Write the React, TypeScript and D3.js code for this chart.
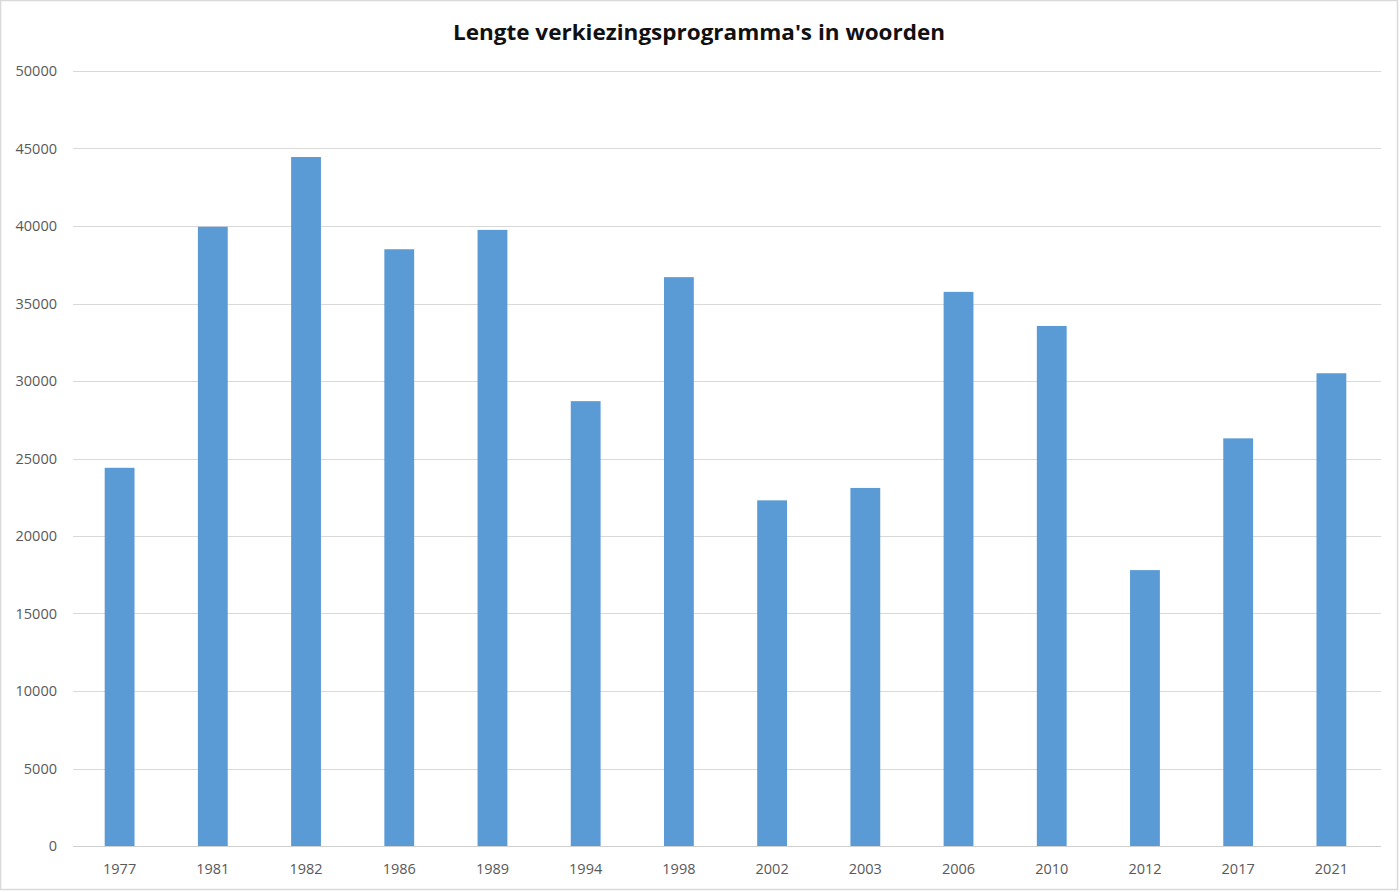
import React from "react";
import * as d3 from "d3";

const years = ["1977","1981","1982","1986","1989","1994","1998","2002","2003","2006","2010","2012","2017","2021"];
const words = [24400, 39950, 44450, 38500, 39750, 28700, 36700, 22300, 23100, 35750, 33550, 17800, 26300, 30500];
const yTicks = [0, 5000, 10000, 15000, 20000, 25000, 30000, 35000, 40000, 45000, 50000];
const title = "Lengte verkiezingsprogramma's in woorden";

export default function App() {
  const W = 1400, H = 892;
  const left = 73, right = 1378, top = 71, bottom = 846;
  const x = d3.scaleBand<string>().domain(years).range([left, right]).paddingInner(0.68).paddingOuter(0.34);
  const y = d3.scaleLinear().domain([0, 50000]).range([bottom, top]);
  const font = "'Open Sans', 'Liberation Sans', sans-serif";
  return (
    <svg width={W} height={H} style={{ position: "absolute", left: 0, top: 0, background: "#fff" }}>
      <rect x={0.5} y={0.5} width={W - 3} height={H - 3} fill="#fff" stroke="#d9d9d9" strokeWidth={1.5} />
      <text x={699} y={40} textAnchor="middle" fontFamily={font} fontWeight="bold" fontSize={21} fill="#111" textLength={492} lengthAdjust="spacingAndGlyphs">{title}</text>
      {yTicks.map(t => (
        <g key={t}>
          <line x1={left} x2={right + 3} y1={Math.round(y(t)) + 0.5} y2={Math.round(y(t)) + 0.5} stroke={t === 0 ? "#d0d0d0" : "#d9d9d9"} strokeWidth={1} />
          <text x={57} y={y(t) + 5} textAnchor="end" fontFamily={font} fontSize={14.5} fill="#595959">{t}</text>
        </g>
      ))}
      {years.map((yr, i) => (
        <rect key={yr} x={x(yr)} y={y(words[i])} width={x.bandwidth()} height={y(0) - y(words[i])} fill="#5b9bd5" />
      ))}
      {years.map(yr => (
        <text key={yr} x={(x(yr) as number) + x.bandwidth() / 2} y={874} textAnchor="middle" fontFamily={font} fontSize={14.5} fill="#595959">{yr}</text>
      ))}
    </svg>
  );
}
